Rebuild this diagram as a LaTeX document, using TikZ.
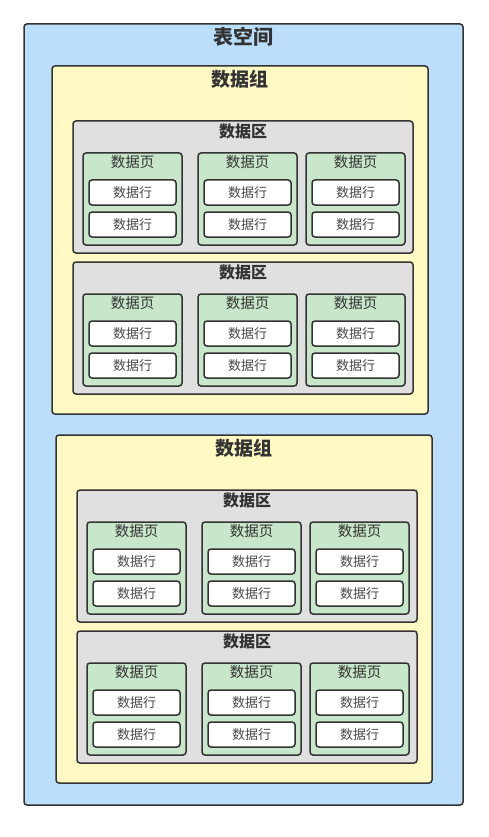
\documentclass[tikz,border=0pt]{standalone}
\usepackage{fontspec}
\setmainfont{Noto Sans CJK SC}
\usepackage{tikz}
\usetikzlibrary{positioning}
\definecolor{spaceblue}{HTML}{BBDEFB}
\definecolor{groupyellow}{HTML}{FFF9C4}
\definecolor{areagray}{HTML}{E0E0E0}
\definecolor{pagegreen}{HTML}{C8E6C9}
\definecolor{linegray}{HTML}{333333}
\tikzset{
  box/.style={rectangle,draw=linegray,line width=1.5pt,rounded corners=3pt,inner sep=0pt},
  groupbox/.style={box,fill=groupyellow,minimum width=376pt,minimum height=348pt},
  areabox/.style={box,fill=areagray,minimum width=340pt,minimum height=132pt},
  pagebox/.style={box,fill=pagegreen,minimum width=99pt,minimum height=92pt},
  rowbox/.style={box,fill=white,minimum width=87pt,minimum height=25pt,
    font=\fontsize{13}{13}\selectfont,text=linegray!90},
  title/.style={inner sep=0pt,text=linegray}
}

\begin{document}
\begin{tikzpicture}[x=1pt,y=-1pt]
\useasboundingbox (0,0) rectangle (489,837);
\node[box,fill=spaceblue,minimum width=439pt,minimum height=781pt] (space) at (243.5,414.5) {};
\node[title,font=\bfseries\fontsize{20}{20}\selectfont] (spacetitle) at (243.5,37) {表空间};
\foreach \g in {0,1} {
  \pgfmathsetmacro{\dx}{4*\g}
  \pgfmathsetmacro{\dy}{369*\g}
  \node[groupbox] (group\g) at (240+\dx,240+\dy) {};
  \node[title,font=\bfseries\fontsize{19}{19}\selectfont] (grouptitle\g) at (240+\dx,79+\dy) {数据组};
  \foreach \a in {0,1} {
    \pgfmathsetmacro{\ay}{\dy+141*\a}
    \node[areabox] (area\g\a) at (243+\dx,187+\ay) {};
    \node[title,font=\bfseries\fontsize{16}{16}\selectfont] (areatitle\g\a) at (243+\dx,131+\ay) {数据区};
    \foreach \p/\px in {0/132.5,1/247.5,2/355.5} {
      \node[pagebox] (page\g\a\p) at (\px+\dx,199+\ay) {};
      \node[title,font=\fontsize{14.5}{14.5}\selectfont] (pagetitle\g\a\p) at (\px+\dx,162+\ay) {数据页};
      \foreach \r/\ry in {0/192.5,1/224.5}
        \node[rowbox] (row\g\a\p\r) at (\px+\dx,\ry+\ay) {数据行};
    }
  }
}
\end{tikzpicture}
\end{document}
